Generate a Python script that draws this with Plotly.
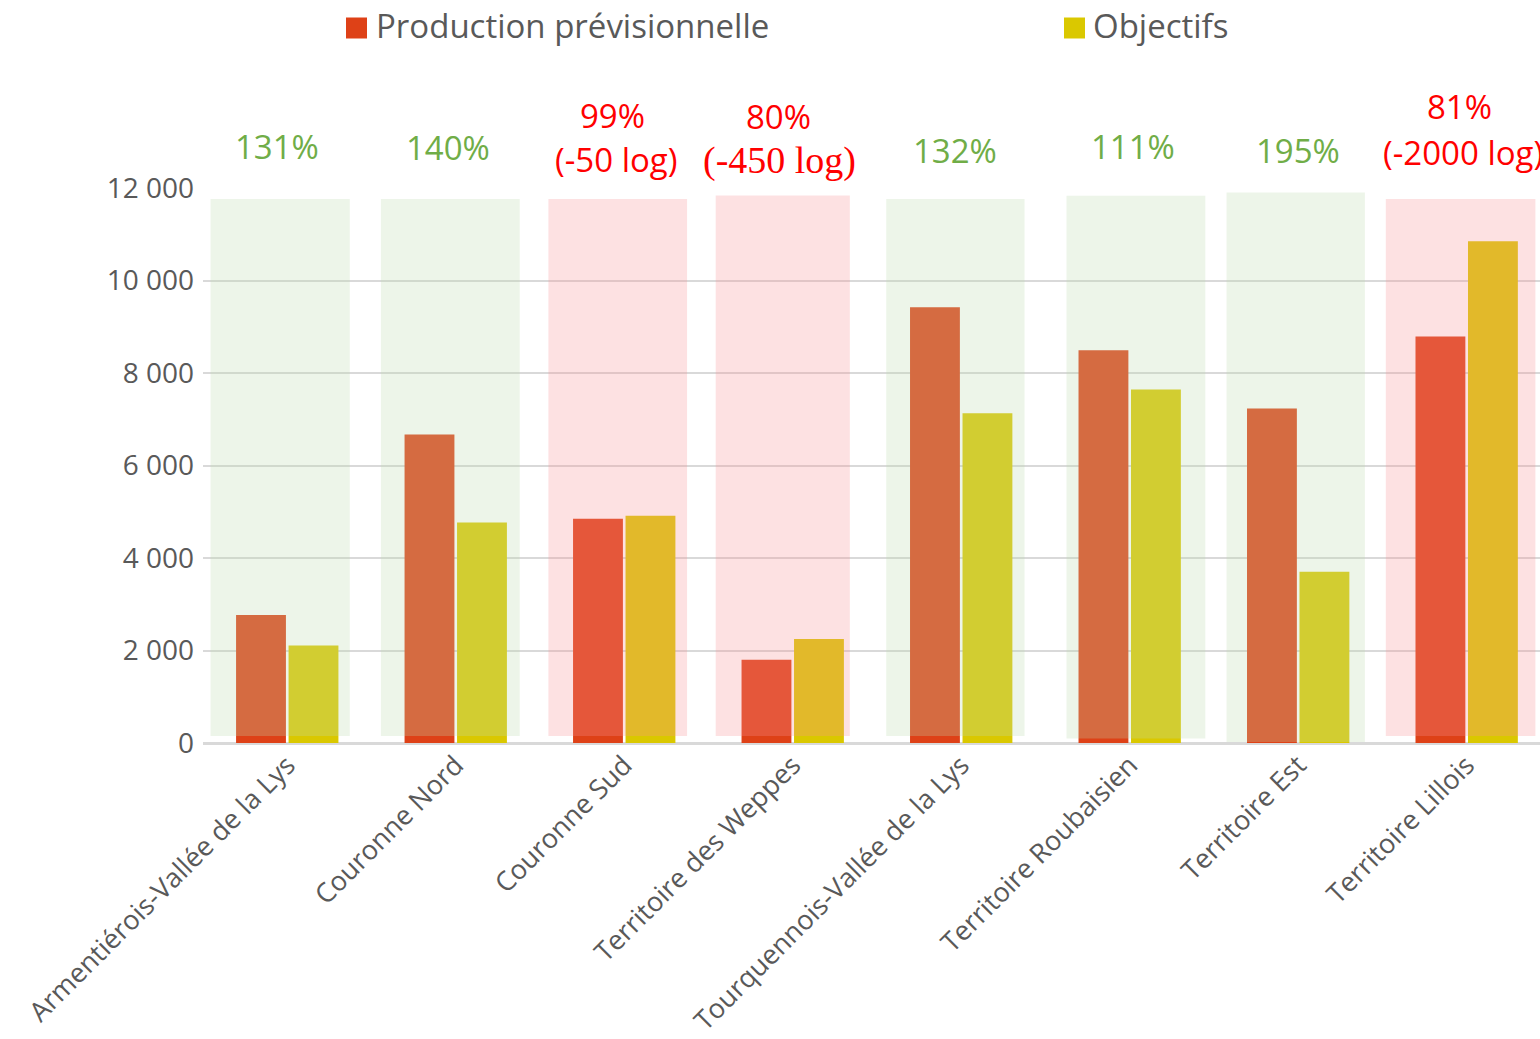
import plotly.graph_objects as go

categories = ["Armentiérois-Vallée de la Lys", "Couronne Nord", "Couronne Sud",
              "Territoire des Weppes", "Tourquennois-Vallée de la Lys",
              "Territoire Roubaisien", "Territoire Est", "Territoire Lillois"]
production = [2770, 6670, 4850, 1800, 9420, 8490, 7230, 8790]
objectifs = [2110, 4765, 4915, 2250, 7130, 7645, 3705, 10850]
rate_labels = ["131%", "140%", "99%", "80%", "132%", "111%", "195%", "81%"]
gap_labels = ["", "", "(-50 log)", "(-450 log)", "", "", "", "(-2000 log)"]
y_tick_values = [0, 2000, 4000, 6000, 8000, 10000, 12000]

# ---- styling / layout (not data) ----
RED = "#DE4117"
YELLOW = "#DAC800"
TXT = "#595959"
GOOD = "#70AD47"
BAD = "#FF0000"
GREEN_BAND = "rgba(191,219,176,0.28)"
PINK_BAND = "rgba(248,148,151,0.28)"
FONT = "Open Sans"

W, H = 1540, 1039
L, R, T, B = 203, 0, 188, 296
PW, PH = W - L - R, H - T - B
CAT_PX = 168.49

def px(x):
    return (x - L) / PW

def py(y):
    return (H - B - y) / PH

# background band geometry: (left offset, right offset, bottom, top) relative to category
band_geom = [(-0.455, 0.371, 150, 11760), (-0.444, 0.380, 150, 11760),
             (-0.450, 0.373, 150, 11760), (-0.457, 0.339, 150, 11840),
             (-0.445, 0.376, 150, 11760), (-0.375, 0.449, 95, 11835),
             (-0.425, 0.396, 20, 11905), (-0.480, 0.408, 150, 11760)]
# annotation placement (offset from category centre, pixel y of centre)
rate_dx = [-0.059, -0.047, -0.069, -0.083, -0.036, 0.022, -0.004, -0.042]
gap_dx = [0, 0, -0.047, -0.077, 0, 0, 0, -0.021]
rate_y_px = [146.5, 147, 115.5, 117, 150, 146.5, 150.5, 106.5]
gap_y_px = [None, None, 159.5, 160, None, None, None, 152.5]

fig = go.Figure()
fig.add_trace(go.Bar(x=list(range(len(categories))), y=production,
                     name="Production prévisionnelle", marker_color=RED,
                     marker_line_width=0, showlegend=False))
fig.add_trace(go.Bar(x=list(range(len(categories))), y=objectifs,
                     name="Objectifs", marker_color=YELLOW,
                     marker_line_width=0, showlegend=False))

shapes = []
for i, (a, b, y0, y1) in enumerate(band_geom):
    good = production[i] >= objectifs[i]
    shapes.append(dict(type="rect", xref="x", yref="y", x0=i + a, x1=i + b,
                       y0=y0, y1=y1, fillcolor=GREEN_BAND if good else PINK_BAND,
                       line_width=0, layer="above"))

# manual legend squares
shapes.append(dict(type="rect", xref="paper", yref="paper", x0=px(346), x1=px(367),
                   y0=py(38.5), y1=py(17.5), fillcolor=RED, line_width=0))
shapes.append(dict(type="rect", xref="paper", yref="paper", x0=px(1064), x1=px(1085),
                   y0=py(38.5), y1=py(17.5), fillcolor=YELLOW, line_width=0))

annotations = [
    dict(text="Production prévisionnelle", xref="paper", yref="paper", x=px(374),
         y=py(25.5), xanchor="left", yanchor="middle", showarrow=False,
         font=dict(family=FONT, size=33, color=TXT)),
    dict(text="Objectifs", xref="paper", yref="paper", x=px(1091),
         y=py(25.5), xanchor="left", yanchor="middle", showarrow=False,
         font=dict(family=FONT, size=33, color=TXT)),
]
for i, lab in enumerate(rate_labels):
    good = production[i] >= objectifs[i]
    col = GOOD if good else BAD
    annotations.append(dict(text=lab, xref="x", yref="paper", x=i + rate_dx[i],
                            y=py(rate_y_px[i]), xanchor="center", yanchor="middle",
                            showarrow=False,
                            font=dict(family=FONT, size=33, color=col)))
    if gap_labels[i]:
        fam = "Liberation Serif" if i == 3 else FONT
        size = 38 if i == 3 else 33
        annotations.append(dict(text=gap_labels[i], xref="x", yref="paper",
                                x=i + gap_dx[i], y=py(gap_y_px[i]),
                                xanchor="center", yanchor="middle", showarrow=False,
                                font=dict(family=fam, size=size, color=col)))

fig.update_layout(
    width=W, height=H, autosize=False,
    margin=dict(l=L, r=R, t=T, b=B, pad=0, autoexpand=False),
    paper_bgcolor="white", plot_bgcolor="white",
    barmode="group", bargap=0.377, bargroupgap=0.05,
    separators=", ",
    showlegend=False,
    shapes=shapes, annotations=annotations,
    font=dict(family=FONT, color=TXT),
)
fig.update_xaxes(
    range=[-0.5, (W - R - L) / CAT_PX - 0.5], tickmode="array",
    tickvals=list(range(len(categories))), ticktext=categories,
    tickangle=-45, tickfont=dict(family=FONT, size=27, color=TXT),
    showgrid=False, zeroline=False, showline=False, ticks="", automargin=False,
)
fig.update_yaxes(
    range=[0, 12000], tickvals=y_tick_values, tickformat=",d",
    tickfont=dict(family=FONT, size=28, color=TXT),
    showgrid=True, gridcolor="#D9D9D9", gridwidth=1.5,
    zeroline=True, zerolinecolor="#D9D9D9", zerolinewidth=3,
    ticks="", ticklabelstandoff=8, showline=False, automargin=False,
)

fig.write_html("out.html", config={"displayModeBar": False},
               post_script="document.body.style.margin='0px';document.body.style.overflow='hidden';")
